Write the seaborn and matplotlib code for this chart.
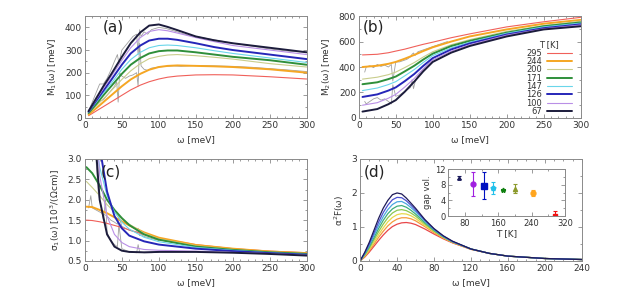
import numpy as np
import pandas as pd
import matplotlib
matplotlib.use('Agg')
import matplotlib.pyplot as plt
from matplotlib.ticker import AutoMinorLocator, MultipleLocator
import seaborn as sns

# temperatures and styles
temps = [295, 244, 200, 171, 147, 126, 100, 67]
colors = ['#f0605a', '#f5a623', '#c9cd8c', '#2f8f3a', '#6ad6ea', '#2626b8', '#b98fe6', '#1c1c3c']
widths = [0.8, 1.4, 0.8, 1.4, 0.8, 1.4, 0.8, 1.4]
colors_d = ['#e8474a', '#f59a3c', '#e8d84a', '#8cc850', '#3fae7a', '#4aa8e0', '#4d52d0', '#1e1a58']

# panel (a) M1(w)
w_a = [5, 15, 25, 35, 50, 62, 75, 87, 100, 112, 125, 150, 175, 200, 250, 300]
m1 = {
    295: [10, 30, 50, 70, 100, 124, 145, 160, 172, 180, 185, 190, 191, 190, 182, 172],
    244: [15, 42, 70, 98, 140, 170, 195, 213, 225, 230, 232, 230, 228, 225, 215, 200],
    200: [20, 52, 85, 118, 170, 208, 240, 262, 272, 278, 280, 275, 268, 260, 240, 225],
    171: [22, 60, 100, 138, 195, 235, 265, 285, 295, 298, 298, 290, 280, 270, 255, 235],
    147: [25, 68, 110, 150, 215, 258, 290, 310, 320, 322, 320, 310, 297, 285, 265, 245],
    126: [28, 75, 120, 165, 235, 285, 320, 342, 350, 350, 345, 330, 313, 300, 280, 260],
    100: [28, 80, 130, 180, 255, 310, 355, 382, 390, 385, 375, 355, 337, 320, 300, 280],
    67: [30, 85, 140, 190, 270, 330, 378, 408, 413, 402, 388, 360, 343, 330, 310, 290],
}
wexp_a1 = [5, 10, 15, 20, 25, 30, 35, 40, 43, 45, 47, 50, 55, 60, 65, 70, 72, 74, 76, 80, 85, 90,
           100, 110, 120, 130, 140, 150, 175, 200, 225, 250, 275, 300]
mexp_a1 = [15, 40, 60, 75, 80, 100, 120, 140, 160, 70, 200, 185, 175, 185, 190, 200, 140, 330, 230,
           215, 210, 220, 225, 228, 230, 228, 230, 232, 230, 228, 224, 218, 212, 205]
wexp_a2 = [5, 10, 15, 20, 25, 30, 35, 40, 44, 46, 50, 55, 60, 65, 70, 72, 74, 76, 80, 85, 90, 95,
           100, 110, 120, 130, 140, 150, 175, 200, 225, 250, 275, 300]
mexp_a2 = [30, 70, 110, 150, 150, 175, 210, 250, 280, 240, 300, 320, 340, 360, 370, 280, 390, 360,
           380, 370, 390, 395, 400, 395, 385, 375, 365, 360, 345, 330, 318, 305, 295, 290]

# panel (b) M2(w)
w_b = [5, 25, 40, 50, 62, 75, 87, 100, 125, 150, 200, 250, 300]
m2 = {
    295: [495, 500, 512, 525, 540, 560, 578, 595, 630, 660, 715, 755, 790],
    244: [400, 410, 425, 440, 465, 495, 525, 555, 600, 640, 695, 740, 770],
    200: [305, 320, 340, 360, 395, 435, 478, 520, 575, 615, 680, 725, 760],
    171: [265, 280, 305, 325, 365, 410, 458, 505, 565, 605, 670, 720, 750],
    147: [215, 235, 262, 285, 330, 380, 435, 490, 550, 595, 665, 715, 745],
    126: [165, 185, 215, 240, 288, 345, 408, 470, 538, 585, 655, 705, 735],
    100: [100, 120, 155, 185, 242, 310, 385, 455, 525, 575, 650, 700, 730],
    67: [50, 70, 108, 140, 205, 285, 365, 440, 513, 565, 640, 695, 720],
}
wexp_b1 = [8, 10, 15, 20, 25, 30, 35, 40, 44, 46, 50, 55, 60, 65, 70, 72, 74, 76, 80, 90, 100, 110, 120]
mexp_b1 = [360, 400, 410, 395, 420, 405, 415, 400, 420, 290, 440, 440, 450, 460, 480, 500, 510, 490,
           520, 540, 560, 580, 600]
wexp_b2 = [8, 10, 15, 20, 25, 30, 35, 40, 44, 46, 50, 55, 60, 65, 70, 72, 74, 76, 80, 90, 100]
mexp_b2 = [130, 110, 130, 150, 160, 140, 150, 130, 110, 260, 170, 180, 200, 220, 240, 300, 230, 280,
           330, 400, 460]

# panel (c) sigma1(w)
w_c = [2, 10, 20, 30, 40, 50, 60, 80, 100, 150, 200, 250, 300]
s1 = {
    295: [1.5, 1.49, 1.46, 1.42, 1.37, 1.32, 1.26, 1.15, 1.05, 0.9, 0.8, 0.74, 0.7],
    244: [1.83, 1.82, 1.75, 1.67, 1.57, 1.47, 1.37, 1.2, 1.07, 0.89, 0.8, 0.73, 0.69],
    200: [2.45, 2.3, 2.1, 1.88, 1.7, 1.53, 1.4, 1.18, 1.04, 0.87, 0.78, 0.72, 0.68],
    171: [2.8, 2.65, 2.35, 2.0, 1.75, 1.55, 1.38, 1.15, 1.02, 0.85, 0.77, 0.71, 0.67],
    147: [6, 4, 2.8, 2.1, 1.7, 1.45, 1.28, 1.08, 0.97, 0.83, 0.76, 0.7, 0.66],
    126: [10, 7, 3.3, 2.2, 1.6, 1.3, 1.12, 0.98, 0.9, 0.8, 0.74, 0.69, 0.65],
    100: [9, 5.5, 2.6, 1.6, 1.15, 0.95, 0.85, 0.78, 0.76, 0.74, 0.71, 0.68, 0.64],
    67: [8, 4.5, 2.0, 1.15, 0.85, 0.75, 0.72, 0.71, 0.72, 0.72, 0.7, 0.67, 0.63],
}
wexp_c1 = [5, 8, 10, 15, 20, 25, 30, 35, 40, 44, 46, 50, 60, 70, 72, 74, 76, 80, 90, 100]
sexp_c1 = [1.8, 2.1, 1.8, 1.75, 1.7, 1.65, 1.6, 1.5, 1.45, 1.4, 1.6, 1.35, 1.25, 1.2, 1.3, 1.12,
           1.15, 1.1, 1.05, 1.0]
wexp_c2 = [10, 15, 18, 20, 25, 28, 30, 35, 40, 44, 46, 50, 60, 70, 72, 74, 80, 90, 100]
sexp_c2 = [3.5, 3.0, 2.2, 2.0, 1.5, 2.0, 1.2, 1.0, 0.9, 0.85, 1.4, 0.8, 0.72, 0.7, 0.9, 0.72, 0.7,
           0.7, 0.71]

# panel (d) alpha^2 F(w)
w_d = [0, 5, 10, 15, 20, 25, 30, 35, 40, 45, 50, 55, 60, 70, 80, 90, 100, 120, 140, 160, 200, 240]
a2f = {
    295: [0, 0.11, 0.26, 0.43, 0.6, 0.76, 0.9, 1.01, 1.08, 1.12, 1.13, 1.11, 1.07, 0.94, 0.79, 0.65, 0.53, 0.34, 0.22, 0.14, 0.07, 0.04],
    244: [0, 0.13, 0.3, 0.49, 0.69, 0.87, 1.03, 1.15, 1.23, 1.27, 1.27, 1.24, 1.18, 1.01, 0.83, 0.67, 0.54, 0.34, 0.22, 0.14, 0.07, 0.04],
    200: [0, 0.15, 0.34, 0.55, 0.77, 0.97, 1.15, 1.28, 1.36, 1.39, 1.38, 1.33, 1.25, 1.05, 0.86, 0.69, 0.55, 0.35, 0.22, 0.14, 0.07, 0.04],
    171: [0, 0.17, 0.38, 0.62, 0.86, 1.08, 1.27, 1.41, 1.49, 1.51, 1.48, 1.41, 1.32, 1.09, 0.88, 0.7, 0.56, 0.35, 0.22, 0.14, 0.07, 0.04],
    147: [0, 0.19, 0.42, 0.68, 0.95, 1.19, 1.39, 1.53, 1.61, 1.63, 1.58, 1.49, 1.38, 1.13, 0.9, 0.71, 0.56, 0.35, 0.22, 0.14, 0.07, 0.04],
    126: [0, 0.21, 0.46, 0.75, 1.04, 1.3, 1.51, 1.66, 1.74, 1.75, 1.68, 1.57, 1.45, 1.17, 0.92, 0.72, 0.57, 0.35, 0.22, 0.14, 0.07, 0.04],
    100: [0, 0.23, 0.5, 0.82, 1.14, 1.42, 1.64, 1.8, 1.87, 1.86, 1.77, 1.64, 1.5, 1.2, 0.94, 0.73, 0.57, 0.35, 0.22, 0.14, 0.07, 0.04],
    67: [0, 0.25, 0.55, 0.9, 1.25, 1.55, 1.78, 1.95, 2.0, 1.97, 1.85, 1.7, 1.55, 1.22, 0.95, 0.74, 0.58, 0.35, 0.22, 0.14, 0.07, 0.04],
}

# inset: gap volume
gap_T = [67, 100, 126, 147, 171, 200, 244, 295]
gap_v = [9.8, 8.2, 7.8, 7.1, 6.6, 7.0, 5.9, 0.1]
gap_err = [0.3, 3.0, 3.5, 1.5, 0.3, 1.2, 0.8, 1.2]
gap_col = ['#1c1c5c', '#a020e0', '#0010c0', '#22c0ea', '#108010', '#8c9a2c', '#ffa51e', '#f01010']
gap_mk = ['^', 'o', 's', 'p', '*', '^', 'o', 's']
gap_ms = [2.5, 3.5, 4, 3.5, 3.5, 3, 3.5, 3.5]

sns.set_theme(style='ticks')
plt.rcParams['font.family'] = ['DejaVu Sans']
plt.rcParams['font.size'] = 6.5
grey = '#8a8a8a'
txt = '#333333'

fig = plt.figure(figsize=(6.43, 2.87), dpi=100)
ax_a = fig.add_axes([0.132, 0.589, 0.345, 0.355])
ax_b = fig.add_axes([0.558, 0.589, 0.345, 0.355])
ax_c = fig.add_axes([0.132, 0.091, 0.345, 0.355])
ax_d = fig.add_axes([0.560, 0.091, 0.345, 0.355])
ax_in = fig.add_axes([0.697, 0.247, 0.182, 0.164])


def style(ax, xmaj, ymaj, xmin=5, ymin=2, fs=6.5):
    for s in ax.spines.values():
        s.set_color(grey)
        s.set_linewidth(0.7)
    ax.xaxis.set_major_locator(MultipleLocator(xmaj))
    ax.yaxis.set_major_locator(MultipleLocator(ymaj))
    ax.xaxis.set_minor_locator(AutoMinorLocator(xmin))
    ax.yaxis.set_minor_locator(AutoMinorLocator(ymin))
    ax.tick_params(which='both', direction='in', top=True, right=True, color=grey,
                   labelsize=fs, labelcolor=txt, width=0.6, pad=2)
    ax.tick_params(which='major', length=3)
    ax.tick_params(which='minor', length=1.5)


def draw(ax, wgrid, table, cols, lws):
    for T, c, lw in zip(temps, cols, lws):
        df = pd.DataFrame({'w': wgrid, 'v': table[T]})
        sns.lineplot(data=df, x='w', y='v', ax=ax, color=c, lw=lw, label=str(T))


gray_kw = dict(color='#a0a0a0', lw=0.6, sort=False)
sns.lineplot(x=wexp_a1, y=mexp_a1, ax=ax_a, **gray_kw)
sns.lineplot(x=wexp_a2, y=mexp_a2, ax=ax_a, **gray_kw)
draw(ax_a, w_a, m1, colors, widths)
ax_a.set_xlim(0, 300)
ax_a.set_ylim(0, 450)
ax_a.set_xlabel('ω [meV]', fontsize=6.5, color=txt)
ax_a.set_ylabel('M$_1$(ω) [meV]', fontsize=6.5, color=txt)
ax_a.get_legend().remove()

sns.lineplot(x=wexp_b1, y=mexp_b1, ax=ax_b, **gray_kw)
sns.lineplot(x=wexp_b2, y=mexp_b2, ax=ax_b, **gray_kw)
draw(ax_b, w_b, m2, colors, widths)
ax_b.set_xlim(0, 300)
ax_b.set_ylim(0, 800)
ax_b.set_xlabel('ω [meV]', fontsize=6.5, color=txt)
ax_b.set_ylabel('M$_2$(ω) [meV]', fontsize=6.5, color=txt)
leg = ax_b.legend(title='T [K]', loc='lower right', bbox_to_anchor=(0.96, 0.02), frameon=False,
                  markerfirst=False, fontsize=6, title_fontsize=6, handlelength=3.0,
                  labelspacing=-0.08, borderaxespad=0, borderpad=0, handletextpad=0.6)
for t in leg.get_texts():
    t.set_color(txt)
leg.get_title().set_color(txt)

sns.lineplot(x=wexp_c1, y=sexp_c1, ax=ax_c, **gray_kw)
sns.lineplot(x=wexp_c2, y=sexp_c2, ax=ax_c, **gray_kw)
draw(ax_c, w_c, s1, colors, widths)
ax_c.set_xlim(0, 300)
ax_c.set_ylim(0.5, 3)
ax_c.set_xlabel('ω [meV]', fontsize=6.5, color=txt)
ax_c.set_ylabel('σ$_1$(ω) [10$^3$/(Ωcm)]', fontsize=6.5, color=txt)
ax_c.get_legend().remove()

draw(ax_d, w_d, a2f, colors_d, [0.9] * 8)
ax_d.set_xlim(0, 240)
ax_d.set_ylim(0, 3)
ax_d.set_xlabel('ω [meV]', fontsize=6.5, color=txt)
ax_d.set_ylabel('α$^2$F(ω)', fontsize=6.5, color=txt)
ax_d.get_legend().remove()

for T, v, e, c, m, ms in zip(gap_T, gap_v, gap_err, gap_col, gap_mk, gap_ms):
    ax_in.errorbar(T, v, yerr=e, color=c, marker=m, ms=ms, lw=0.8, capsize=1.5, capthick=0.8)
ax_in.set_xlim(40, 320)
ax_in.set_ylim(0, 12)
ax_in.set_xlabel('T [K]', fontsize=6.5, color=txt, labelpad=1)
ax_in.set_ylabel('gap vol.', fontsize=6, color=txt, labelpad=2)

style(ax_a, 50, 100)
style(ax_b, 50, 200)
style(ax_c, 50, 0.5)
style(ax_d, 40, 1, xmin=4, ymin=2)
style(ax_in, 80, 4, xmin=2, ymin=2, fs=6)

for ax, lab, x, y in [(ax_a, '(a)', 0.08, 0.89), (ax_b, '(b)', 0.02, 0.89),
                      (ax_c, '(c)', 0.07, 0.87), (ax_d, '(d)', 0.015, 0.87)]:
    ax.text(x, y, lab, transform=ax.transAxes, fontsize=11, color='#222222', va='center', ha='left')

fig.savefig('out.png', dpi=100)
